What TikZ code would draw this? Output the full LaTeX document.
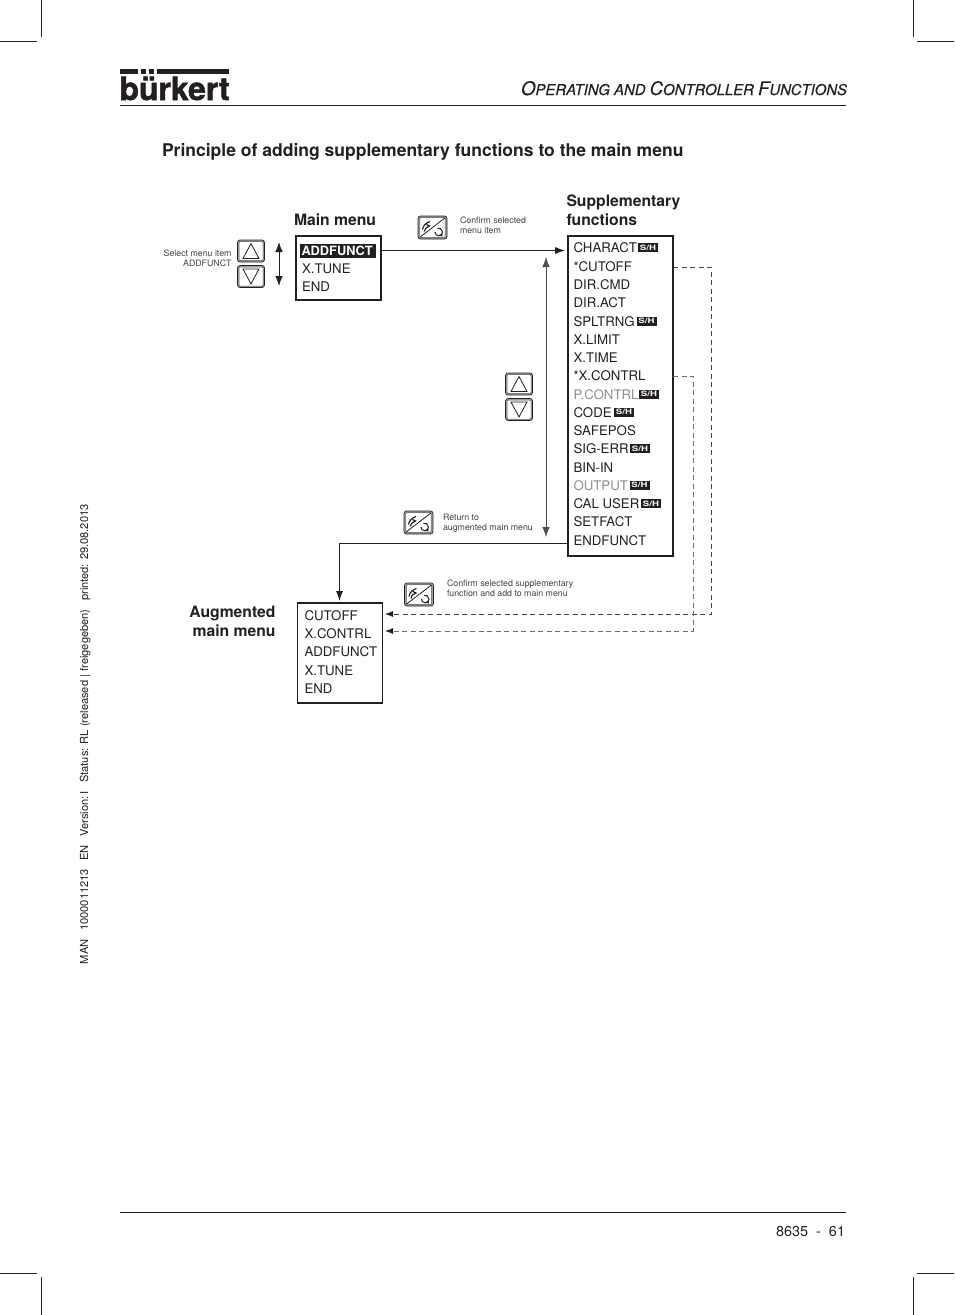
\documentclass[tikz,border=0pt]{standalone}
\usepackage{fontspec}
\setmainfont{TeX Gyre Heros}
\newfontfamily\logofont[FakeBold=1.6]{TeX Gyre Heros Bold}
\newfontfamily\headfont[FakeBold=0.25,ItalicFont={TeX Gyre Heros Italic},ItalicFeatures={FakeBold=0.25}]{TeX Gyre Heros}
\usetikzlibrary{arrows.meta}
\definecolor{ink}{HTML}{231F20}
\definecolor{pale}{HTML}{8F8F8F}
\newcommand{\fs}[1]{\fontsize{#1}{#1}\selectfont}
\newcommand{\SC}[2]{{\fs{18.6}#1}{\fs{14.9}#2}}
\newcommand{\gp}{\hspace{8.6pt}}
\tikzset{
  x=1pt,y=-1pt,
  every node/.style={inner sep=0pt,outer sep=0pt,text=ink},
  crop/.style={ink,line width=0.9pt},
  rulemark/.style={ink,line width=0.9pt},
  menubox/.style={draw=ink,line width=1.5pt,fill=white,anchor=north west},
  item/.style={anchor=base west,font=\fs{13.25}},
  small/.style={align=left,font=\fontsize{8.8}{10}\selectfont,anchor=west,text=ink!85},
  smallr/.style={align=right,font=\fontsize{8.8}{10}\selectfont,anchor=east,text=ink!85},
  head/.style={font=\bfseries\fs{15.7},align=left},
  sh/.style={fill=ink,text=white,font=\bfseries\fs{7.4},minimum width=20pt,minimum height=9pt,anchor=west},
  conn/.style={ink,line width=0.9pt,-{Latex[length=10pt,width=7pt]}},
  dbl/.style={ink,line width=0.9pt,{Latex[length=10pt,width=7.5pt]}-{Latex[length=10pt,width=7.5pt]}},
  dash1/.style={ink!85,line width=0.8pt,dash pattern=on 5pt off 3.5pt,-{Latex[length=8pt,width=6pt,color=ink]}},
  dash2/.style={ink!65,line width=0.8pt,dash pattern=on 5pt off 3.5pt,-{Latex[length=8pt,width=6pt,color=ink]}},
  upbtn/.pic={
    \draw[ink,line width=0.7pt,fill=black!35,rounded corners=2.5pt] (-13.5,-11) rectangle (13.5,11);
    \draw[ink!80,line width=0.5pt,rounded corners=1pt,fill=white] (-12,-9.5) rectangle (12,9.5);
    \draw[ink,line width=0.8pt] (-8,7.5) -- (0,-7.5) -- (8,7.5) -- cycle;
  },
  downbtn/.pic={
    \draw[ink,line width=0.7pt,fill=black!35,rounded corners=2.5pt] (-13.5,-11) rectangle (13.5,11);
    \draw[ink!80,line width=0.5pt,rounded corners=1pt,fill=white] (-12,-9.5) rectangle (12,9.5);
    \draw[ink,line width=0.8pt] (-8,-7.5) -- (0,7.5) -- (8,-7.5) -- cycle;
  },
  okicon/.pic={
    \draw[ink,line width=0.7pt,fill=black!35,rounded corners=2.5pt] (-14.5,-11.5) rectangle (14.5,11.5);
    \draw[ink!80,line width=0.5pt,rounded corners=1pt,fill=white] (-12.7,-9.8) rectangle (12.7,9.8);
    \draw[ink,line width=0.8pt] (-12.5,9.6) -- (12.5,-9.6);
    \draw[ink,line width=1.2pt] (-10,2) .. controls (-9.5,-2) and (-6,-5) .. (-2.5,-6);
    \draw[ink,line width=1.2pt] (-8,4) .. controls (-7,0) and (-6,0) .. (-3,-1.5) -- (-6,-3);
    \draw[ink,line width=1pt] (2.4,4.5) arc (180:-110:3.8);
    \fill[ink] (6.5,7.6) -- (10,6.2) -- (9.8,9.2) -- cycle;
  },
}
\begin{document}
\begin{tikzpicture}
\useasboundingbox (0,0) rectangle (954,1315);
% crop marks
\draw[crop] (41.5,0) -- (41.5,37);
\draw[crop] (0,41.5) -- (37,41.5);
\draw[crop] (913,0) -- (913,37);
\draw[crop] (917,41.5) -- (954,41.5);
\draw[crop] (0,1273) -- (37,1273);
\draw[crop] (41.5,1277) -- (41.5,1315);
\draw[crop] (917,1273) -- (954,1273);
\draw[crop] (913,1277) -- (913,1315);
% logo
\node[anchor=base west,text=ink] (logo) at (119.5,100) {\logofont\fs{31.9}bürkert};
\fill[white] (119,66) rectangle (232,76);
\fill[ink] (120,69) rectangle (137.5,73.5);
\fill[ink] (141,69) rectangle (146,73.5);
\fill[ink] (148.5,69) rectangle (153.5,73.5);
\fill[ink] (157,69) rectangle (229,73.5);
% header
\node[anchor=base east] (chapter) at (847,95) {\headfont\itshape\SC{O}{PERATING AND }\SC{C}{ONTROLLER }\SC{F}{UNCTIONS}};
\draw[rulemark] (120,105) -- (846,105);
% title
\node[anchor=base west,font=\bfseries\fs{17.53}] (title) at (162,156) {Principle of adding supplementary functions to the main menu};
% side text
\node[anchor=base west,rotate=90,font=\fs{11.1},text=ink] (side) at (88,964)
  {MAN\gp 1000011213\gp EN\gp Version:\,I\gp Status: RL (released | freigegeben)\gp printed: 29.08.2013};
% footer
\draw[rulemark] (120,1212) -- (846,1212);
\node[anchor=base east,font=\fs{14.4}] (page) at (845,1236) {8635\ \ -\ \ 61};

% headings
\node[head,anchor=base west] (hmain) at (294,225) {Main menu};
\node[head,anchor=base west] (hsup1) at (566.5,206.5) {Supplementary};
\node[head,anchor=base west] (hsup2) at (566.5,225.5) {functions};
\node[head,anchor=base east] (haug1) at (275.5,617.5) {Augmented};
\node[head,anchor=base east] (haug2) at (275.5,636.5) {main menu};

% main menu
\node[menubox,minimum width=85pt,minimum height=64pt] (mainbox) at (296,236) {};
\node[fill=ink,minimum width=76pt,minimum height=14pt,anchor=north west] (addbg) at (300,244) {};
\node[item,text=white,font=\bfseries\fs{12.8}] (addfunct) at (301.5,255.5) {ADDFUNCT};
\node[item] (xtune) at (302,273) {X.TUNE};
\node[item] (mend) at (302,291) {END};

% supplementary menu
\node[menubox,minimum width=105pt,minimum height=320pt] (supbox) at (568,236) {};
\node[item] (s1) at (573.5,252) {CHARACT};
\node[item] (s2) at (573.5,271) {*CUTOFF};
\node[item] (s3) at (573.5,289) {DIR.CMD};
\node[item] (s4) at (573.5,307) {DIR.ACT};
\node[item] (s5) at (573.5,326) {SPLTRNG};
\node[item] (s6) at (573.5,344) {X.LIMIT};
\node[item] (s7) at (573.5,362) {X.TIME};
\node[item] (s8) at (573.5,380) {*X.CONTRL};
\node[item,text=pale] (s9) at (573.5,399) {P.CONTRL};
\node[item] (s10) at (573.5,417) {CODE};
\node[item] (s11) at (573.5,435) {SAFEPOS};
\node[item] (s12) at (573.5,453) {SIG-ERR};
\node[item] (s13) at (573.5,472) {BIN-IN};
\node[item,text=pale] (s14) at (573.5,490) {OUTPUT};
\node[item] (s15) at (573.5,508) {CAL USER};
\node[item] (s16) at (573.5,526) {SETFACT};
\node[item] (s17) at (573.5,545) {ENDFUNCT};
\node[sh] (t1) at (638,247.5) {\scalebox{1.3}[1]{S/H}};
\node[sh] (t5) at (636.5,321) {\scalebox{1.3}[1]{S/H}};
\node[sh] (t9) at (639,394) {\scalebox{1.3}[1]{S/H}};
\node[sh] (t10) at (614,412) {\scalebox{1.3}[1]{S/H}};
\node[sh] (t12) at (630,448.5) {\scalebox{1.3}[1]{S/H}};
\node[sh] (t14) at (629.5,485) {\scalebox{1.3}[1]{S/H}};
\node[sh] (t15) at (641,503.5) {\scalebox{1.3}[1]{S/H}};

% augmented menu
\node[menubox,minimum width=85pt,minimum height=100pt] (augbox) at (297.5,603) {};
\node[item] (a1) at (304.5,620) {CUTOFF};
\node[item] (a2) at (304.5,638) {X.CONTRL};
\node[item] (a3) at (304.5,656) {ADDFUNCT};
\node[item] (a4) at (304.5,675) {X.TUNE};
\node[item] (a5) at (304.5,693) {END};

% small labels
\node[smallr] (lselect) at (231.5,258) {Select menu item\\ADDFUNCT};
\node[small] (lconf) at (460,225) {Confirm selected\\menu item};
\node[small] (lret) at (443,523.4) {Return to\\augmented main menu};
\node[small] (lconf2) at (447,588) {Confirm selected supplementary\\function and add to main menu};

% buttons
\pic at (251,251) {upbtn};
\pic at (251,276.5) {downbtn};
\pic at (519,384) {upbtn};
\pic at (519,409.5) {downbtn};
\pic at (432.5,227.5) {okicon};
\pic at (418.5,522.5) {okicon};
\pic at (419,594.5) {okicon};

% named free ends
\coordinate (mArrUp) at (279,242);
\coordinate (mArrDn) at (279,286);
\coordinate (sArrUp) at (546,257);
\coordinate (sArrDn) at (546,537);
\coordinate (mainEnd) at (565,250.5);
\coordinate (retY) at (0,543);
\coordinate (retX) at (339.5,543);
\coordinate (augTop) at (339.5,601);
\coordinate (cut1) at (711,267);
\coordinate (xc1) at (693,376);
\coordinate (aug1) at (385,614);
\coordinate (aug2) at (385,631);

% connectors
\draw[dbl] (mArrUp) -- (mArrDn);
\draw[conn] (mainbox.east |- mainEnd) -- (mainEnd);
\draw[dbl,ink!80,line width=0.8pt] (sArrUp) -- (sArrDn);
\draw[conn] (supbox.west |- retY) -- (retX) -- (augTop);
\draw[dash1] (supbox.east |- cut1) -- (cut1) |- (aug1);
\draw[dash2] (supbox.east |- xc1) -- (xc1) |- (aug2);
\end{tikzpicture}
\end{document}
